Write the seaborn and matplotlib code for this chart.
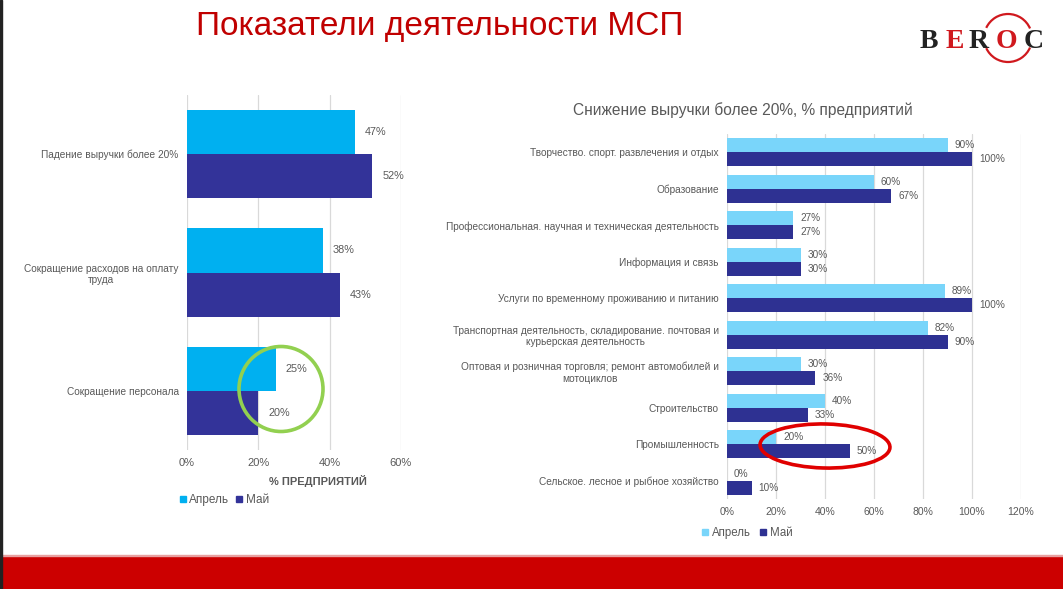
import matplotlib
matplotlib.use("Agg")
import matplotlib.pyplot as plt
import seaborn as sns
import pandas as pd
from matplotlib.patches import Ellipse, Rectangle, Arc
from matplotlib.ticker import PercentFormatter

sns.set_theme(style="white")
plt.rcParams['font.family'] = ['Liberation Sans', 'DejaVu Sans']

# ---------------- data ----------------
left_categories = ["Падение выручки более 20%",
                   "Сокращение расходов на оплату\nтруда",
                   "Сокращение персонала"]
left_april = [47, 38, 25]
left_may = [52, 43, 20]

right_categories = ["Творчество. спорт. развлечения и отдых",
                    "Образование",
                    "Профессиональная. научная и техническая деятельность",
                    "Информация и связь",
                    "Услуги по временному проживанию и питанию",
                    "Транспортная деятельность, складирование. почтовая и\nкурьерская деятельность",
                    "Оптовая и розничная торговля; ремонт автомобилей и\nмотоциклов",
                    "Строительство",
                    "Промышленность",
                    "Сельское. лесное и рыбное хозяйство"]
right_april = [90, 60, 27, 30, 89, 82, 30, 40, 20, 0]
right_may = [100, 67, 27, 30, 100, 90, 36, 33, 50, 10]

series_names = ["Апрель", "Май"]
left_ticks = [0, 20, 40, 60]
right_ticks = [0, 20, 40, 60, 80, 100, 120]

W, H = 1063, 589
fig = plt.figure(figsize=(W / 100, H / 100), dpi=100)
fig.patch.set_facecolor("white")

def fx(px):
    return px / W

def fy(py):
    return 1 - py / H

TXT = "#595959"
GRID = "#D9D9D9"

def make_df(cats, a, m):
    return pd.DataFrame({
        "cat": cats * 2,
        "val": list(a) + list(m),
        "period": [series_names[0]] * len(cats) + [series_names[1]] * len(cats),
    })

def style_axis(ax, ticks, fs_tick, fs_cat):
    ax.set_xlim(ticks[0], ticks[-1])
    ax.set_xticks(ticks)
    ax.xaxis.set_major_formatter(PercentFormatter(decimals=0))
    ax.grid(axis="x", color=GRID, lw=0.9)
    ax.set_axisbelow(True)
    for s in ax.spines.values():
        s.set_visible(False)
    ax.tick_params(axis="x", colors=TXT, labelsize=fs_tick, length=0, pad=6)
    ax.tick_params(axis="y", colors=TXT, labelsize=fs_cat, length=0, pad=6)
    for lab in ax.get_yticklabels():
        lab.set_multialignment("center")
    ax.set_xlabel("")
    ax.set_ylabel("")
    if ax.get_legend():
        ax.get_legend().remove()

# ---------------- left chart ----------------
axL = fig.add_axes([fx(187), fy(450), fx(401) - fx(187), fy(95) - fy(450)])
dfl = make_df(left_categories, left_april, left_may)
sns.barplot(data=dfl, y="cat", x="val", hue="period", orient="h",
            palette=["#00B0F0", "#333399"], width=0.745, ax=axL,
            saturation=1, legend=False, linewidth=0, edgecolor="none")
axL.set_ylim(2.5, -0.5)
style_axis(axL, left_ticks, 8, 7.3)
for c in axL.containers:
    axL.bar_label(c, fmt="{:.0f}%", padding=7, color=TXT, fontsize=7.8)

fig.text(fx(318), fy(481), "% ПРЕДПРИЯТИЙ", ha="center", va="center",
         fontsize=8, fontweight="bold", color=TXT)

hL = [plt.Line2D([], [], marker="s", ls="", color=c, markersize=5)
      for c in ["#00B0F0", "#333399"]]
fig.legend(hL, series_names, loc="center", bbox_to_anchor=(fx(223), fy(500)),
           ncol=2, frameon=False, fontsize=8.5, handletextpad=0.05,
           handlelength=1.0, columnspacing=0.35, labelcolor=TXT, borderaxespad=0)

# green circle highlight
fig.patches.append(Ellipse((fx(281), fy(389)), 84 / W, 85 / H,
                           transform=fig.transFigure, fill=False,
                           ec="#92D050", lw=2.6))

# ---------------- right chart ----------------
axR = fig.add_axes([fx(727), fy(499), fx(1021) - fx(727), fy(134) - fy(499)])
dfr = make_df(right_categories, right_april, right_may)
sns.barplot(data=dfr, y="cat", x="val", hue="period", orient="h",
            palette=["#79D5FA", "#2E3192"], width=0.77, ax=axR,
            saturation=1, legend=False, linewidth=0, edgecolor="none")
axR.set_ylim(9.5, -0.5)
style_axis(axR, right_ticks, 7.5, 7.3)
for c in axR.containers:
    axR.bar_label(c, fmt="{:.0f}%", padding=5, color=TXT, fontsize=7.2)

fig.text(fx(743), fy(110), "Снижение выручки более 20%, % предприятий",
         ha="center", va="center", fontsize=11.2, color=TXT)

hR = [plt.Line2D([], [], marker="s", ls="", color=c, markersize=5)
      for c in ["#79D5FA", "#2E3192"]]
fig.legend(hR, series_names, loc="center", bbox_to_anchor=(fx(746), fy(533)),
           ncol=2, frameon=False, fontsize=8.3, handletextpad=0.05,
           handlelength=1.0, columnspacing=0.6, labelcolor=TXT, borderaxespad=0)

# red ellipse highlight
fig.patches.append(Ellipse((fx(825), fy(446)), 130 / W, 44 / H, angle=-3,
                           transform=fig.transFigure, fill=False,
                           ec="#E00000", lw=2.6))

# ---------------- title ----------------
fig.text(fx(440), fy(26), "Показатели деятельности МСП", ha="center",
         va="center", fontsize=24, color="#C00000")

# ---------------- logo ----------------
for ch, x, col in [("B", 929, "#222222"), ("E", 955, "#D0191E"),
                   ("R", 979, "#222222"), ("O", 1006, "#D0191E"),
                   ("C", 1034, "#222222")]:
    fig.text(fx(x), fy(41), ch, ha="center", va="center", fontsize=20,
             fontweight="bold", family="Liberation Serif", color=col)
for t1, t2 in [(38, 140), (220, 322)]:
    fig.patches.append(Arc((fx(1008), fy(38)), 48 / W, 48 / H,
                           theta1=t1, theta2=t2, transform=fig.transFigure,
                           color="#D0191E", lw=1.6))

# ---------------- frame decorations ----------------
fig.patches.append(Rectangle((0, 0), 1, 33 / H, transform=fig.transFigure,
                             color="#CC0000", zorder=0))
fig.patches.append(Rectangle((0, 33 / H), 1, 1.5 / H, transform=fig.transFigure,
                             color="#E8A0A0", zorder=0))
fig.patches.append(Rectangle((0, 0), 2 / W, 1, transform=fig.transFigure,
                             color="#222222", zorder=5))

fig.savefig("out.png", dpi=100)
